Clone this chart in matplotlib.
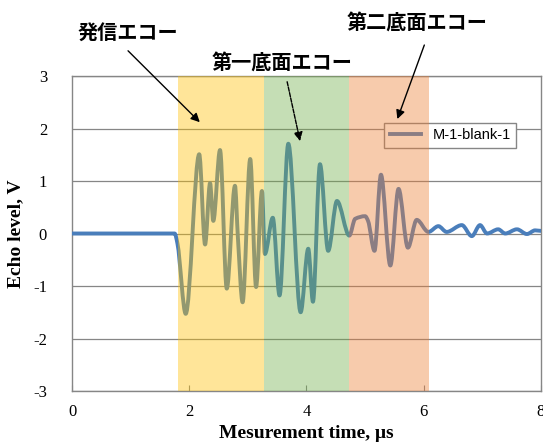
import numpy as np
import matplotlib
matplotlib.use("Agg")
import matplotlib.pyplot as plt
from matplotlib.path import Path
from matplotlib.patches import PathPatch
from matplotlib.lines import Line2D

# -----------------------------
# Data
# -----------------------------
time_us = [0.0, 1.0, 1.75, 1.80, 1.94, 2.17, 2.27, 2.355, 2.41, 2.525, 2.64, 2.78, 2.83,
           2.91, 3.04, 3.14, 3.24, 3.29, 3.425, 3.54, 3.69, 3.90, 4.03, 4.11, 4.23, 4.37,
           4.52, 4.73, 4.83, 5.00, 5.05, 5.16, 5.27, 5.43, 5.57, 5.73, 5.88, 6.08, 6.25,
           6.39, 6.65, 6.82, 6.96, 7.08, 7.27, 7.39, 7.59, 7.76, 7.90, 8.0]
echo_v = [0.0, 0.0, 0.0, -0.2, -1.53, 1.51, -0.21, 0.96, 0.24, 1.59, -1.05, 0.91, -0.08,
          -1.31, 1.42, -1.02, 0.81, -0.39, 0.30, -1.18, 1.71, -1.50, -0.29, -1.30, 1.32, -0.33,
          0.62, -0.04, 0.28, 0.33, 0.24, -0.33, 1.12, -0.61, 0.85, -0.27, 0.26, 0.03, 0.14,
          0.03, 0.16, -0.05, 0.16, 0.0, 0.08, 0.0, 0.08, -0.01, 0.06, 0.05]
series_label = "M-1-blank-1"

# echo windows (start, end) in µs
band_edges = [1.81, 3.28, 4.73, 6.09]
band_colors = ["#FFC000", "#70AD47", "#ED7D31"]
band_names = ["発信エコー", "第一底面エコー", "第二底面エコー"]

plt.rcParams['font.family'] = ['Liberation Serif', 'DejaVu Serif']
plt.rcParams['axes.unicode_minus'] = False


def smooth_path(xs, ys):
    # monotone cubic (Hermite) segments, like Excel's smoothed line
    xs = np.asarray(xs, float)
    ys = np.asarray(ys, float)
    d = np.diff(ys) / np.diff(xs)
    m = np.zeros_like(xs)
    for i in range(1, len(xs) - 1):
        if d[i - 1] * d[i] > 0:
            m[i] = 2.0 / (1.0 / d[i - 1] + 1.0 / d[i])
    verts = [(xs[0], ys[0])]
    codes = [Path.MOVETO]
    for i in range(len(xs) - 1):
        h = xs[i + 1] - xs[i]
        verts += [(xs[i] + h / 3, ys[i] + m[i] * h / 3),
                  (xs[i + 1] - h / 3, ys[i + 1] - m[i + 1] * h / 3),
                  (xs[i + 1], ys[i + 1])]
        codes += [Path.CURVE4] * 3
    return Path(verts, codes)


fig = plt.figure(figsize=(5.43, 4.46), dpi=100)
ax = fig.add_axes([0.1326, 0.1233, 0.8637, 0.7063])

line_color = "#4A7EBB"
ax.add_patch(PathPatch(smooth_path(time_us, echo_v), fill=False, edgecolor=line_color,
                       lw=2.8, capstyle="round", joinstyle="round", zorder=3))

# translucent windows on top of the trace
for i, c in enumerate(band_colors):
    ax.axvspan(band_edges[i], band_edges[i + 1], color=c, alpha=0.4, lw=0, zorder=6)

ax.set_xlim(0, 8)
ax.set_ylim(-3, 3)
ax.set_xticks([0, 2, 4, 6, 8])
ax.set_yticks(range(-3, 4))
ax.yaxis.grid(True, color="#868686", lw=0.9, zorder=1)
ax.set_axisbelow(True)
for s in ax.spines.values():
    s.set_color("#868686")
    s.set_linewidth(1.0)
ax.tick_params(axis="x", direction="in", length=4, color="#868686", labelsize=12, pad=9)
ax.tick_params(axis="y", direction="in", length=0, labelsize=12, pad=18)

ax.set_xlabel("Mesurement time, μs", fontsize=14, fontweight="bold", labelpad=4)
ax.set_ylabel("Echo level, V", fontsize=14, fontweight="bold", labelpad=6)

leg = ax.legend(handles=[Line2D([], [], color=line_color, lw=2.8)], labels=[series_label],
                loc="upper left", bbox_to_anchor=(0.65, 0.875), fancybox=False,
                edgecolor="#868686", framealpha=1, handlelength=2.1,
                prop={"family": "Liberation Sans", "size": 10.5})
leg.set_zorder(4)

# -----------------------------
# Japanese annotations with arrows
# -----------------------------
jp = dict(fontsize=14.5, fontweight="bold", family=["Noto Sans CJK JP", "DejaVu Sans"],
          ha="center", va="center", color="black")
arrow = dict(arrowstyle="-|>", color="black", lw=1.0, mutation_scale=13, shrinkA=0, shrinkB=0)

ax.text(0.956, 3.84, band_names[0], clip_on=False, **jp)
ax.annotate("", xy=(2.18, 2.12), xytext=(0.956, 3.48), arrowprops=arrow,
            annotation_clip=False, zorder=8)

ax.text(3.58, 3.27, band_names[1], clip_on=False, **jp)
ax.annotate("", xy=(3.89, 1.76), xytext=(3.67, 2.89),
            arrowprops=dict(arrow, linestyle=(0, (3, 1))), annotation_clip=False, zorder=8)

ax.text(5.89, 4.03, band_names[2], clip_on=False, **jp)
ax.annotate("", xy=(5.55, 2.18), xytext=(6.01, 3.59), arrowprops=arrow,
            annotation_clip=False, zorder=8)

fig.savefig("out.png", dpi=100)
